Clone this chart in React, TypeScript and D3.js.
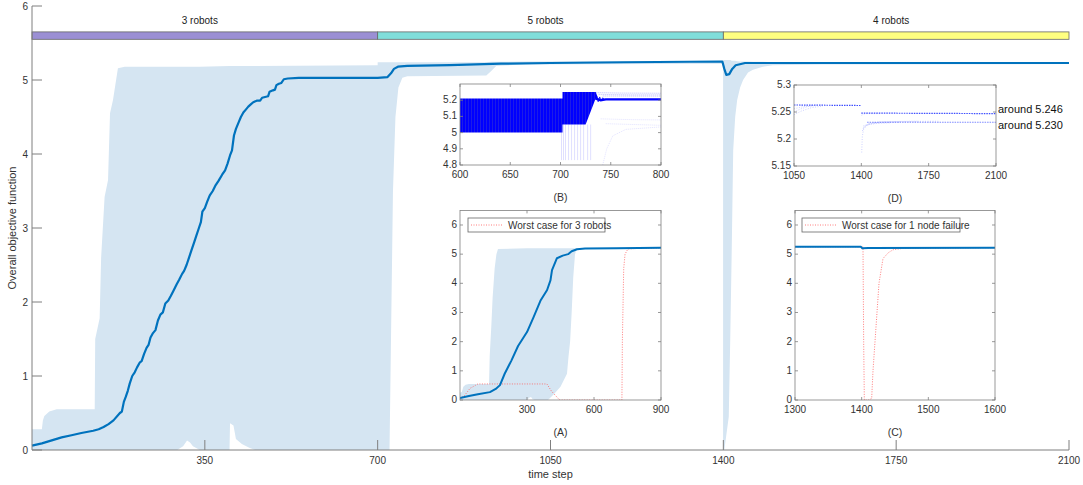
import React from "react";
import * as d3 from "d3";

const W = 1083;
const H = 485;
const FONT = "'Liberation Sans', Arial, Helvetica, sans-serif";
const AXIS = "#7f7f7f";
const TXT = "#333";
const BAND = "#d5e5f2";
const LINE = "#0072bd";
const RED = "#ff5a5a";

// ---- main chart data ----
const meanX = [0, 20, 40, 60, 80, 100, 124, 135, 145, 155, 165, 178, 182, 186, 190, 194, 198, 203, 208, 213, 218, 222, 227, 232, 236, 240, 245, 250, 255, 260, 265, 270, 276, 281, 287, 293, 298, 304, 308, 313, 318, 323, 328, 333, 338, 342, 345, 350, 355, 360, 366, 372, 378, 385, 391, 396, 401, 405, 409, 413, 418, 423, 428, 433, 438, 443, 448, 455, 462, 466, 472, 478, 481, 488, 492, 495, 500, 505, 510, 518, 540, 700, 720, 727, 733, 741, 760, 846, 950, 1050, 1200, 1398, 1402, 1406, 1412, 1418, 1425, 1444, 1600, 2100];
const meanY = [0.06, 0.09, 0.13, 0.17, 0.2, 0.23, 0.26, 0.28, 0.31, 0.35, 0.4, 0.5, 0.52, 0.65, 0.72, 0.8, 0.9, 1.0, 1.05, 1.12, 1.18, 1.2, 1.3, 1.38, 1.42, 1.52, 1.58, 1.62, 1.75, 1.83, 1.86, 1.98, 2.02, 2.08, 2.16, 2.24, 2.3, 2.38, 2.42, 2.5, 2.6, 2.7, 2.8, 2.9, 3.0, 3.08, 3.22, 3.27, 3.36, 3.44, 3.5, 3.58, 3.64, 3.72, 3.78, 3.87, 3.98, 4.05, 4.25, 4.34, 4.42, 4.5, 4.56, 4.6, 4.64, 4.67, 4.7, 4.72, 4.72, 4.76, 4.77, 4.78, 4.84, 4.86, 4.87, 4.93, 4.95, 4.96, 5.01, 5.02, 5.03, 5.03, 5.04, 5.09, 5.15, 5.18, 5.19, 5.2, 5.22, 5.23, 5.24, 5.25, 5.15, 5.07, 5.08, 5.15, 5.2, 5.23, 5.23, 5.23];

const bandX = [0, 20, 22, 25, 35, 50, 127, 128, 137, 140, 147, 154, 158, 164, 174, 188, 294, 306, 314, 320, 326, 340, 400, 401, 408, 413, 425, 440, 452, 700, 700, 724, 727, 731, 736, 742, 750, 760, 920, 930, 940, 1000, 1399.5, 1399.5, 1402, 1406, 1411, 1414, 1417, 1420, 1424, 1428, 1434, 1440, 1450, 1460, 1480, 1500, 1600, 2100];
const bandLo = [0, 0, 0, 0, 0, 0, 0, 0, 0, 0, 0, 0, 0, 0, 0, 0, 0, 0.05, 0.13, 0.1, 0.05, 0, 0, 0.36, 0.33, 0.15, 0.08, 0.03, 0, 0, 0, 0, 1.5, 3.5, 4.5, 4.9, 5.03, 5.05, 5.06, 5.12, 5.19, 5.21, 5.22, 0, 0, 0.2, 0.45, 1.5, 2.7, 4.05, 4.5, 4.73, 4.9, 5.0, 5.1, 5.14, 5.18, 5.2, 5.21, 5.215];
const bandHi = [0.28, 0.28, 0.4, 0.46, 0.52, 0.55, 0.55, 1.5, 1.78, 2.6, 3.42, 3.65, 4.55, 4.73, 5.16, 5.18, 5.18, 5.18, 5.18, 5.18, 5.18, 5.18, 5.19, 5.19, 5.19, 5.19, 5.19, 5.19, 5.19, 5.2, 5.24, 5.24, 5.24, 5.24, 5.24, 5.24, 5.24, 5.24, 5.24, 5.245, 5.245, 5.25, 5.26, 5.27, 5.27, 5.27, 5.27, 5.27, 5.26, 5.26, 5.26, 5.255, 5.25, 5.25, 5.25, 5.245, 5.245, 5.24, 5.24, 5.24];

const robotLabels = ["3 robots", "5 robots", "4 robots"];
const robotStart = [0, 700, 1400];
const robotEnd = [700, 1400, 2100];
const robotColors = ["#9b8fd4", "#80deda", "#ffff80"];

const mainXTicks = [350, 700, 1050, 1400, 1750, 2100];
const mainYTicks = [0, 1, 2, 3, 4, 5, 6];

// ---- inset A ----
const aMeanX = [0, 40, 80, 134, 160, 179, 200, 230, 260, 300, 330, 360, 390, 405, 412, 434, 460, 484, 500, 524, 560, 700, 900];
const aMeanY = [0.07, 0.14, 0.2, 0.27, 0.38, 0.51, 0.9, 1.35, 1.85, 2.33, 2.85, 3.4, 3.77, 4.1, 4.45, 4.86, 4.95, 5.0, 5.1, 5.17, 5.19, 5.2, 5.22];
const aBandX = [0, 8, 15, 25, 40, 130, 133, 140, 146, 155, 163, 170, 300, 310, 318, 325, 335, 394, 420, 450, 479, 486, 493, 500, 507, 515, 522, 540, 900];
const aBandLo = [0, 0, 0, 0, 0, 0, 0, 0, 0, 0, 0, 0, 0, 0.08, 0.1, 0.03, 0, 0, 0.2, 0.45, 0.9, 1.5, 2, 3, 4.2, 5.0, 5.17, 5.18, 5.2];
const aBandHi = [0.25, 0.27, 0.45, 0.52, 0.55, 0.55, 1.5, 2.5, 3.5, 4.5, 5.0, 5.18, 5.2, 5.2, 5.2, 5.2, 5.2, 5.2, 5.2, 5.2, 5.2, 5.2, 5.2, 5.2, 5.2, 5.2, 5.2, 5.21, 5.23];
const aWorstX = [0, 20, 45, 80, 389, 410, 440, 448, 725, 727, 733, 739, 752, 800, 900];
const aWorstY = [0.05, 0.15, 0.4, 0.55, 0.55, 0.3, 0.05, 0, 0, 2, 4.5, 5.0, 5.18, 5.2, 5.21];

// ---- inset C ----
const cMeanX = [1300, 1399, 1401, 1410, 1600];
const cMeanY = [5.25, 5.25, 5.2, 5.21, 5.22];
const cWorstX = [1300, 1402, 1403, 1404, 1410, 1415, 1417, 1420, 1423, 1426, 1432, 1440, 1447, 1462, 1600];
const cWorstY = [5.25, 5.25, 2, 0, 0, 0.05, 1, 2, 3, 4, 4.85, 5.05, 5.15, 5.2, 5.22];

// ---- inset B ----
const bBlockX = [600, 702, 702, 725, 735, 737];
const bBlockLo = [5.0, 5.0, 5.05, 5.05, 5.21, 5.21];
const bBlockHi = [5.21, 5.21, 5.25, 5.25, 5.25, 5.22];
const bDark: [number, number][] = [[735, 5.21], [740, 5.2], [745, 5.205], [800, 5.205]];
const bSaw: [number, number][] = [[734, 5.2], [736, 5.225], [737.5, 5.19], [739, 5.22], [740.5, 5.195], [742, 5.215], [744, 5.2]];
const bFaint: [number, number][][] = [
  [[735, 5.247], [760, 5.244], [800, 5.243]],
  [[738, 5.236], [770, 5.233], [800, 5.233]],
  [[742, 5.226], [800, 5.225]],
  [[740, 5.085], [770, 5.08], [800, 5.078]],
  [[745, 5.055], [800, 5.045]],
  [[742, 4.8], [746, 4.9], [752, 4.98], [765, 5.02], [800, 5.035]],
];
const bDropX = [701, 703, 705, 708, 711, 714, 717, 720, 723, 727, 730];
const bDropBottom = 4.83;

// ---- inset D ----
const dMain: [number, number][][] = [
  [[1050, 5.263], [1400, 5.262]],
  [[1400, 5.248], [2100, 5.247]],
  [[1430, 5.231], [2100, 5.231]],
];
const dFaint: [number, number][][] = [
  [[1050, 5.25], [1080, 5.255], [1120, 5.26], [1160, 5.262]],
  [[1050, 5.245], [1090, 5.252], [1140, 5.258], [1200, 5.261]],
  [[1050, 5.256], [1100, 5.26], [1150, 5.262]],
  [[1402, 5.175], [1405, 5.205], [1412, 5.218], [1430, 5.226], [1500, 5.23], [1600, 5.231]],
  [[1405, 5.215], [1420, 5.225], [1460, 5.229], [1550, 5.23]],
  [[1408, 5.22], [1440, 5.228], [1500, 5.232], [1700, 5.233]],
  [[1410, 5.224], [1450, 5.23], [1550, 5.232], [1800, 5.233]],
  [[1401, 5.244], [1420, 5.247], [1500, 5.247]],
];

// ---- scales ----
const mx = d3.scaleLinear().domain([0, 2100]).range([32, 1069]);
const my = d3.scaleLinear().domain([0, 6]).range([450, 6]);

const ax = d3.scaleLinear().domain([0, 900]).range([460, 661]);
const ay = d3.scaleLinear().domain([0, 6.5]).range([400, 210.4]);
const cx = d3.scaleLinear().domain([1300, 1600]).range([795, 995]);
const bx = d3.scaleLinear().domain([600, 800]).range([460, 661]);
const by = d3.scaleLinear().domain([4.8, 5.3]).range([165, 84]);
const dx = d3.scaleLinear().domain([1050, 2100]).range([794, 996]);
const dy = d3.scaleLinear().domain([5.15, 5.3]).range([166, 85]);

type S = d3.ScaleLinear<number, number>;

const xyLine = (xs: S, ys: S, X: number[], Y: number[]) =>
  d3.line<number>().x((_, i) => xs(X[i])).y((_, i) => ys(Y[i]))(X) || "";
const pairLine = (xs: S, ys: S, pts: [number, number][]) =>
  d3.line<[number, number]>().x((d) => xs(d[0])).y((d) => ys(d[1]))(pts) || "";
const bandPath = (xs: S, ys: S, X: number[], lo: number[], hi: number[]) =>
  d3.area<number>().x((_, i) => xs(X[i])).y0((_, i) => ys(lo[i])).y1((_, i) => ys(hi[i]))(X) || "";

function InsetBox({ xs, ys, xTicks, yTicks, title }: { xs: S; ys: S; xTicks: number[]; yTicks: number[]; title: string }) {
  const [x0, x1] = xs.range();
  const [y0, y1] = ys.range();
  const t = 3;
  return (
    <g>
      <rect x={x0} y={y1} width={x1 - x0} height={y0 - y1} fill="none" stroke={AXIS} strokeWidth={0.8} />
      {xTicks.map((v) => (
        <g key={"x" + v}>
          <line x1={xs(v)} x2={xs(v)} y1={y0} y2={y0 - t} stroke={AXIS} strokeWidth={0.8} />
          <line x1={xs(v)} x2={xs(v)} y1={y1} y2={y1 + t} stroke={AXIS} strokeWidth={0.8} />
          <text x={xs(v)} y={y0 + 13} textAnchor="middle" fontSize={10} fill={TXT}>{v}</text>
        </g>
      ))}
      {yTicks.map((v) => (
        <g key={"y" + v}>
          <line x1={x0} x2={x0 + t} y1={ys(v)} y2={ys(v)} stroke={AXIS} strokeWidth={0.8} />
          <line x1={x1} x2={x1 - t} y1={ys(v)} y2={ys(v)} stroke={AXIS} strokeWidth={0.8} />
          <text x={x0 - 3} y={ys(v) + 3} textAnchor="end" fontSize={10} fill={TXT}>{String(v)}</text>
        </g>
      ))}
      <text x={(x0 + x1) / 2} y={y0 + 36} textAnchor="middle" fontSize={10.5} fill={TXT}>{title}</text>
    </g>
  );
}

function Legend({ x, y, w, label }: { x: number; y: number; w: number; label: string }) {
  return (
    <g>
      <rect x={x} y={y} width={w} height={14} fill="#fff" stroke="#666" strokeWidth={0.8} />
      <line x1={x + 3} x2={x + 35} y1={y + 7} y2={y + 7} stroke={RED} strokeWidth={0.8} strokeDasharray="1,1.5" />
      <text x={x + 40} y={y + 10.5} fontSize={10} fill={TXT}>{label}</text>
    </g>
  );
}

export default function App() {
  return (
    <svg width={W} height={H} style={{ position: "absolute", left: 0, top: 0, background: "#fff" }} fontFamily={FONT}>
      <defs>
        <pattern id="stripes" width="3" height="10" patternUnits="userSpaceOnUse">
          <rect width="3" height="10" fill="#0000ff" />
          <rect width="1" height="10" fill="#1c1ce8" />
        </pattern>
        <clipPath id="clipB"><rect x={460} y={84} width={201} height={81} /></clipPath>
        <clipPath id="clipD"><rect x={794} y={85} width={202} height={81} /></clipPath>
        <clipPath id="clipA"><rect x={460} y={210.4} width={201} height={189.6} /></clipPath>
        <clipPath id="clipC"><rect x={795} y={210.4} width={200} height={189.6} /></clipPath>
      </defs>

      {/* main band + mean */}
      <path d={bandPath(mx, my, bandX, bandLo, bandHi)} fill={BAND} />
      <path d={xyLine(mx, my, meanX, meanY)} fill="none" stroke={LINE} strokeWidth={2.2} strokeLinejoin="round" />

      {/* robot count bar */}
      {robotLabels.map((lab, i) => (
        <g key={lab}>
          <rect x={mx(robotStart[i])} y={my(5.65)} width={mx(robotEnd[i]) - mx(robotStart[i])} height={my(5.55) - my(5.65)} fill={robotColors[i]} stroke="#666" strokeWidth={0.8} />
          <text x={mx((robotStart[i] + robotEnd[i]) / 2) - 5} y={my(5.8) + 3.5} textAnchor="middle" fontSize={10} fill="#222">{lab}</text>
        </g>
      ))}

      {/* main axes */}
      <line x1={mx(0)} x2={mx(0)} y1={my(0)} y2={my(6)} stroke={AXIS} />
      <line x1={mx(0)} x2={mx(2100)} y1={my(0)} y2={my(0)} stroke={AXIS} />
      {mainYTicks.map((v) => (
        <g key={"my" + v}>
          <line x1={mx(0)} x2={mx(0) + 10} y1={my(v)} y2={my(v)} stroke={AXIS} />
          <text x={mx(0) - 4} y={my(v) + 3.5} textAnchor="end" fontSize={10} fill={TXT}>{v}</text>
        </g>
      ))}
      {mainXTicks.map((v) => (
        <g key={"mx" + v}>
          <line x1={mx(v)} x2={mx(v)} y1={my(0)} y2={my(0) - 10} stroke={AXIS} />
          <text x={mx(v)} y={my(0) + 14} textAnchor="middle" fontSize={10} fill={TXT}>{v}</text>
        </g>
      ))}
      <text x={(mx(0) + mx(2100)) / 2} y={478} textAnchor="middle" fontSize={11} fill={TXT}>time step</text>
      <text transform={`translate(16,${(my(0) + my(6)) / 2}) rotate(-90)`} textAnchor="middle" fontSize={11} fill={TXT}>Overall objective function</text>

      {/* inset B */}
      <rect x={460} y={84} width={201} height={81} fill="#fff" />
      <g clipPath="url(#clipB)">
        {bDropX.map((v) => (
          <line key={"bd" + v} x1={bx(v)} x2={bx(v)} y1={by(5.05)} y2={by(bDropBottom)} stroke="#0000ff" strokeOpacity={0.18} strokeWidth={0.7} />
        ))}
        {bFaint.map((s, i) => (
          <path key={"bf" + i} d={pairLine(bx, by, s)} fill="none" stroke="#0000ff" strokeOpacity={i < 3 ? 0.35 : 0.15} strokeWidth={0.8} strokeDasharray="1,1" />
        ))}
        <path d={bandPath(bx, by, bBlockX, bBlockLo, bBlockHi)} fill="url(#stripes)" />
        <path d={pairLine(bx, by, bSaw)} fill="none" stroke="#0000ff" strokeWidth={0.8} />
        <path d={pairLine(bx, by, bDark)} fill="none" stroke="#0000ff" strokeWidth={2.4} />
      </g>
      <InsetBox xs={bx} ys={by} xTicks={[600, 650, 700, 750, 800]} yTicks={[4.8, 4.9, 5, 5.1, 5.2]} title="(B)" />

      {/* inset D */}
      <rect x={794} y={85} width={202} height={81} fill="#fff" />
      <g clipPath="url(#clipD)">
        {dFaint.map((s, i) => (
          <path key={"df" + i} d={pairLine(dx, dy, s)} fill="none" stroke="#3344ff" strokeOpacity={0.3} strokeWidth={0.8} strokeDasharray="1,1.5" />
        ))}
        {dMain.map((s, i) => (
          <path key={"dm" + i} d={pairLine(dx, dy, s)} fill="none" stroke="#2a3cff" strokeOpacity={i === 2 ? 0.6 : 0.9} strokeWidth={1.2} strokeDasharray="1.5,1" />
        ))}
      </g>
      <InsetBox xs={dx} ys={dy} xTicks={[1050, 1400, 1750, 2100]} yTicks={[5.15, 5.2, 5.25, 5.3]} title="(D)" />
      <text x={998} y={dy(5.246) - 1} fontSize={11} fill="#111">around 5.246</text>
      <text x={998} y={dy(5.23) + 6} fontSize={11} fill="#111">around 5.230</text>

      {/* inset A */}
      <rect x={460} y={210.4} width={201} height={189.6} fill="#fff" />
      <g clipPath="url(#clipA)">
        <path d={bandPath(ax, ay, aBandX, aBandLo, aBandHi)} fill={BAND} />
        <path d={xyLine(ax, ay, aWorstX, aWorstY)} fill="none" stroke={RED} strokeWidth={0.8} strokeDasharray="1,1.5" />
        <path d={xyLine(ax, ay, aMeanX, aMeanY)} fill="none" stroke={LINE} strokeWidth={2} strokeLinejoin="round" />
      </g>
      <InsetBox xs={ax} ys={ay} xTicks={[300, 600, 900]} yTicks={[0, 1, 2, 3, 4, 5, 6]} title="(A)" />
      <Legend x={468} y={218} w={137} label="Worst case for 3 robots" />

      {/* inset C */}
      <rect x={795} y={210.4} width={200} height={189.6} fill="#fff" />
      <g clipPath="url(#clipC)">
        <path d={xyLine(cx, ay, cWorstX, cWorstY)} fill="none" stroke={RED} strokeWidth={0.8} strokeDasharray="1,1.5" />
        <path d={xyLine(cx, ay, cMeanX, cMeanY)} fill="none" stroke={LINE} strokeWidth={2} strokeLinejoin="round" />
      </g>
      <InsetBox xs={cx} ys={ay} xTicks={[1300, 1400, 1500, 1600]} yTicks={[0, 1, 2, 3, 4, 5, 6]} title="(C)" />
      <Legend x={802} y={218} w={158} label="Worst case for 1 node failure" />
    </svg>
  );
}
